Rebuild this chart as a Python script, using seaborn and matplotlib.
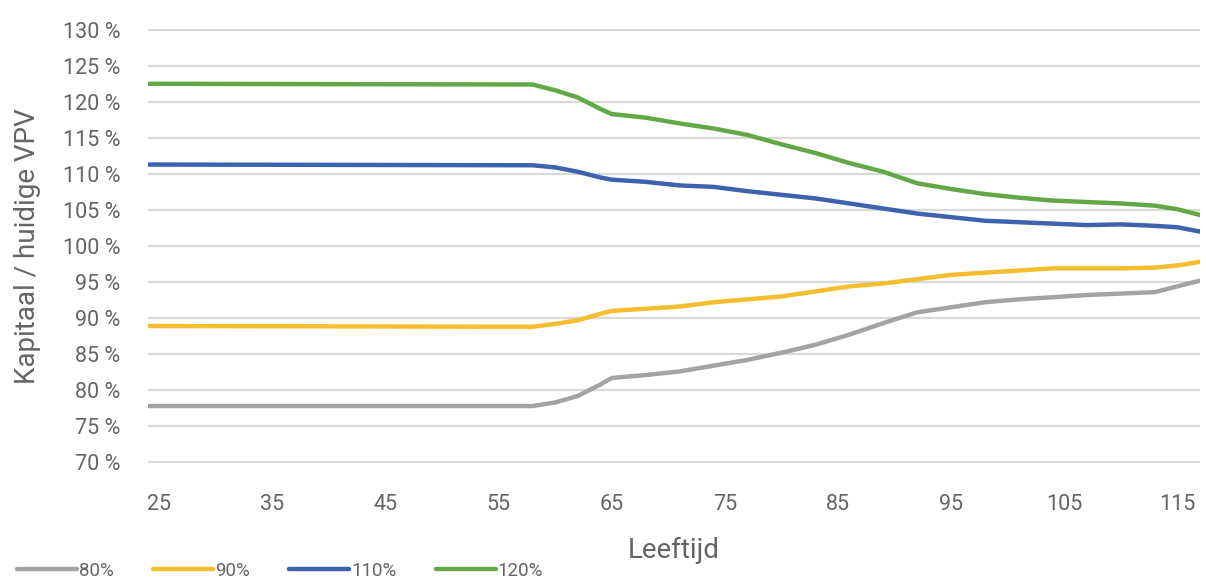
import matplotlib
matplotlib.use("Agg")
import matplotlib.pyplot as plt
import seaborn as sns
import pandas as pd

# ---- data ----
ages = [24, 58, 60, 62, 64, 65, 68, 71, 74, 77, 80, 83, 86, 89, 92, 95,
        98, 101, 104, 107, 110, 113, 115, 117]

s80 = [77.8, 77.8, 78.3, 79.2, 80.8, 81.7, 82.1, 82.6, 83.4, 84.2, 85.2, 86.3,
       87.7, 89.3, 90.8, 91.5, 92.2, 92.6, 92.9, 93.2, 93.4, 93.6, 94.4, 95.2]
s90 = [88.9, 88.8, 89.2, 89.7, 90.6, 91.0, 91.3, 91.6, 92.2, 92.6, 93.0, 93.7,
       94.4, 94.8, 95.4, 96.0, 96.3, 96.6, 96.9, 96.9, 96.9, 97.0, 97.3, 97.8]
s110 = [111.3, 111.2, 110.9, 110.3, 109.5, 109.2, 108.9, 108.4, 108.2, 107.6,
        107.1, 106.6, 105.9, 105.2, 104.5, 104.0, 103.5, 103.3, 103.1, 102.9,
        103.0, 102.8, 102.6, 102.0]
s120 = [122.5, 122.4, 121.6, 120.6, 119.0, 118.3, 117.8, 117.0, 116.3, 115.4,
        114.1, 112.9, 111.5, 110.3, 108.7, 107.9, 107.2, 106.7, 106.3, 106.1,
        105.9, 105.6, 105.1, 104.3]

series_names = ["80%", "90%", "110%", "120%"]
series_values = [s80, s90, s110, s120]
series_colors = ["#A3A3A3", "#F4BE2E", "#3D62AE", "#62A846"]

x_ticks = [25, 35, 45, 55, 65, 75, 85, 95, 105, 115]
x_tick_labels = ["25", "35", "45", "55", "65", "75", "85", "95", "105", "115"]
y_ticks = [70, 75, 80, 85, 90, 95, 100, 105, 110, 115, 120, 125, 130]
y_tick_labels = ["70 %", "75 %", "80 %", "85 %", "90 %", "95 %", "100 %",
                 "105 %", "110 %", "115 %", "120 %", "125 %", "130 %"]

x_title = "Leeftijd"
y_title = "Kapitaal / huidige VPV"

# ---- build long-form table ----
rows = []
for name, vals in zip(series_names, series_values):
    for a, v in zip(ages, vals):
        rows.append({"Leeftijd": a, "waarde": v, "scenario": name})
df = pd.DataFrame(rows)

sns.set_theme(style="white")
plt.rcParams["font.family"] = ["Roboto", "DejaVu Sans"]

txt_col = "#646464"

fig = plt.figure(figsize=(12.06, 5.79), dpi=100)
ax = fig.add_axes([148 / 1206, 1 - 463 / 579, (1200 - 148) / 1206, (463 - 29) / 579])

sns.lineplot(data=df, x="Leeftijd", y="waarde", hue="scenario",
             hue_order=series_names,
             palette=dict(zip(series_names, series_colors)),
             linewidth=3.2, ax=ax, legend=True)

ax.set_xlim(24, 117)
ax.set_ylim(69.9, 130.1)
ax.set_xticks(x_ticks)
ax.set_xticklabels(x_tick_labels)
ax.set_yticks(y_ticks)
ax.set_yticklabels(y_tick_labels)

ax.grid(axis="y", color="#D9D9D9", linewidth=1.6)
ax.grid(axis="x", visible=False)
ax.set_axisbelow(True)
for sp in ax.spines.values():
    sp.set_visible(False)

ax.tick_params(axis="both", length=0, labelsize=15.5, colors=txt_col)
ax.tick_params(axis="y", pad=20)
ax.tick_params(axis="x", pad=22)

ax.set_xlabel(x_title, fontsize=20, color=txt_col)
ax.set_ylabel(y_title, fontsize=20, color=txt_col)
ax.xaxis.set_label_coords(0.5, -0.17)
ax.yaxis.set_label_coords(-0.102, 0.5)

handles, labels = ax.get_legend_handles_labels()
ax.get_legend().remove()
leg = fig.legend(handles, labels, loc="center left",
                 bbox_to_anchor=(0.014, 1 - 571 / 579), ncol=4, frameon=False,
                 fontsize=13.5, handlelength=3.2, handletextpad=0.1,
                 columnspacing=2.1, borderpad=0, borderaxespad=0)
for t in leg.get_texts():
    t.set_color(txt_col)
for h in leg.legend_handles:
    h.set_linewidth(3.2)

fig.savefig("out.png", dpi=100)
